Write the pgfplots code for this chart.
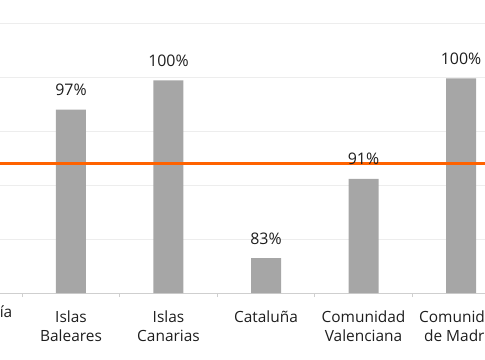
\documentclass[border=0pt]{standalone}
\usepackage{pgfplots}
\pgfplotsset{compat=1.18}
\usepackage{fontspec}
\setmainfont{Open Sans}
\definecolor{inggray}{HTML}{A6A6A6}
\definecolor{ingorange}{HTML}{FF6200}
\definecolor{gridc}{HTML}{EDEDED}
\definecolor{axisc}{HTML}{CFCFCF}
\definecolor{txt}{HTML}{1E1E1E}
\begin{document}
\begin{tikzpicture}
\begin{axis}[
  width=485bp, height=293bp, scale only axis,
  xmin=0.272, xmax=5.246,
  ymin=80, ymax=107.13,
  axis x line*=bottom, axis y line*=left,
  y axis line style={draw=none},
  x axis line style={draw=axisc, line width=0.8bp},
  ytick={85,90,95,100,105}, yticklabels={},
  ytick style={draw=none},
  ymajorgrids, grid style={draw=gridc, line width=0.8bp},
  xtick={1,2,3,4,5},
  xticklabels={Islas\\Baleares, Islas\\Canarias, Catalu\~na, Comunidad\\Valenciana, Comunidad\\de Madrid},
  xticklabel style={align=center, font=\fontsize{15.5}{20}\selectfont, text=txt, yshift=-9.5bp},
  extra x ticks={0.272},
  extra x tick labels={Andaluc\'ia},
  extra x tick style={xticklabel style={xshift=-23bp}, major tick length=0pt},
  major x tick style={draw=none},
  minor xtick={-0.5,0.5,1.5,2.5,3.5,4.5,5.5},
  minor x tick style={draw=axisc, line width=0.8bp},
  minor tick length=4bp,
  tick align=outside,
  clip=true,
]
\addplot[ybar, bar width=30bp, fill=inggray, draw=none]
  coordinates {(1,96.97) (2,99.69) (3,83.24) (4,90.56) (5,99.87)};
\addplot[draw=ingorange, line width=3bp, mark=none]
  coordinates {(0.272,92.0) (5.246,92.0)};
\addplot[draw=none, mark=none, point meta=explicit symbolic,
  nodes near coords,
  every node near coord/.append style={anchor=base, inner sep=0pt, yshift=14bp, font=\fontsize{16}{18}\selectfont, text=txt}]
  coordinates {(1,96.97) [97\%] (2,99.69) [100\%] (3,83.24) [83\%] (4,90.56) [91\%] (5,99.87) [100\%]};
\end{axis}
\pgfresetboundingbox
\path[use as bounding box] (current axis.south west) ++(0,-67bp) rectangle (current axis.north east);
\end{tikzpicture}
\end{document}
